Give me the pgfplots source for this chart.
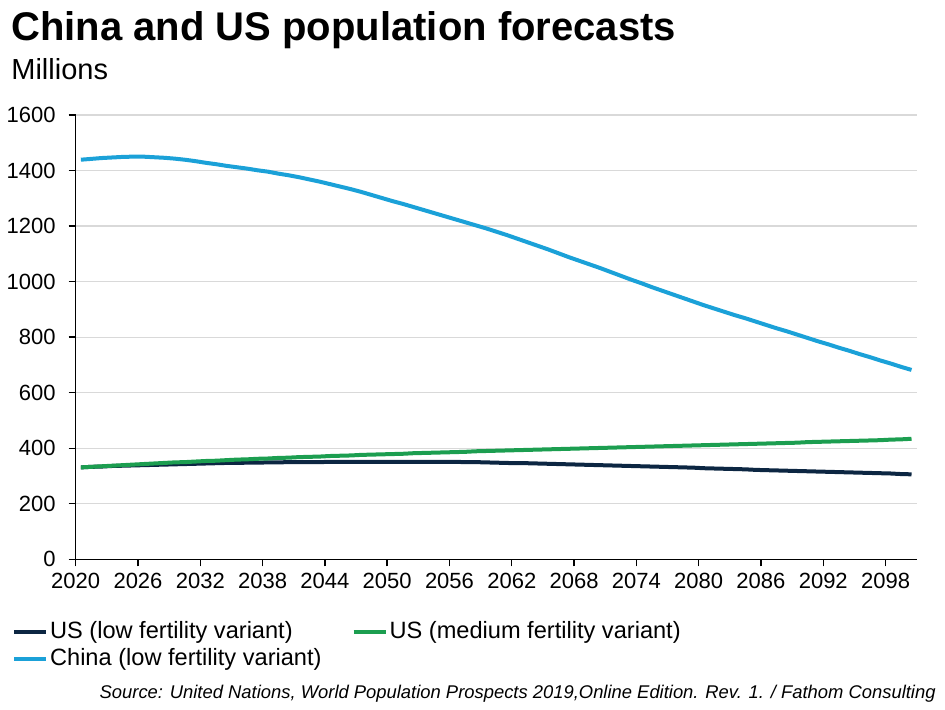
\documentclass[border=0pt]{standalone}
\usepackage{pgfplots}
\pgfplotsset{compat=1.18}
\usepackage{pgfplotstable}
\usepackage{fontspec}
\setmainfont{Liberation Sans}
\definecolor{usnavy}{RGB}{12,38,66}
\definecolor{usgreen}{RGB}{28,158,80}
\definecolor{cnblue}{RGB}{27,161,216}
\definecolor{gridgray}{RGB}{217,217,217}
\pgfplotstableread{
year uslow usmed china
2020 331 331 1439
2021 333 333 1442
2022 334 335 1445
2023 336 337 1447
2024 337 339 1449
2025 338 341 1450
2026 339 343 1450
2027 340 345 1448
2028 341 347 1446
2029 342 349 1443
2030 343 350 1439
2031 344 352 1434
2032 345 354 1428
2033 346 355 1423
2034 347 357 1417
2035 347 359 1412
2036 348 360 1407
2037 348 362 1401
2038 349 363 1396
2039 349 365 1389
2040 350 366 1383
2041 350 368 1376
2042 350 369 1368
2043 350 370 1360
2044 351 372 1351
2045 351 373 1342
2046 351 374 1333
2047 351 376 1323
2048 351 377 1312
2049 351 378 1301
2050 351 379 1290
2051 351 380 1280
2052 351 382 1269
2053 351 383 1258
2054 351 384 1247
2055 351 385 1236
2056 351 386 1225
2057 350 387 1214
2058 350 389 1203
2059 349 390 1192
2060 348 391 1180
2061 347 392 1168
2062 346 393 1155
2063 346 394 1142
2064 345 395 1129
2065 344 396 1116
2066 343 397 1102
2067 342 398 1088
2068 341 399 1075
2069 340 400 1062
2070 339 401 1049
2071 338 402 1035
2072 337 403 1021
2073 336 404 1007
2074 335 405 994
2075 334 406 980
2076 333 407 967
2077 332 408 954
2078 331 409 941
2079 330 410 928
2080 328 411 915
2081 327 412 903
2082 326 413 891
2083 325 414 879
2084 324 415 868
2085 322 416 856
2086 321 417 844
2087 320 418 832
2088 319 419 821
2089 318 420 809
2090 317 422 797
2091 316 423 785
2092 315 424 774
2093 314 425 762
2094 313 426 751
2095 312 427 739
2096 311 428 728
2097 310 429 716
2098 309 431 705
2099 307 432 693
2100 306 434 682
}\popdata
\begin{document}
\begin{tikzpicture}
\path[use as bounding box] (0,0) rectangle (472.5pt,-355pt);
\node[anchor=base west, inner sep=0pt, font=\bfseries\fontsize{20}{24}\selectfont] at (5.5pt,-20.5pt) {China and US population forecasts};
\node[anchor=base west, inner sep=0pt, font=\fontsize{14.5}{17}\selectfont] at (5.5pt,-40pt) {Millions};
\begin{axis}[
  at={(37.85pt,-279.65pt)}, anchor=south west,
  scale only axis, width=420.5pt, height=222.15pt,
  xmin=2019.5, xmax=2100.5, ymin=0, ymax=1600,
  xtick={2019.5,2025.5,2031.5,2037.5,2043.5,2049.5,2055.5,2061.5,2067.5,2073.5,2079.5,2085.5,2091.5,2097.5},
  xticklabels={2020,2026,2032,2038,2044,2050,2056,2062,2068,2074,2080,2086,2092,2098},
  ytick={0,200,...,1600},
  axis x line*=bottom, axis y line*=left,
  axis line style={-, black, line width=0.7pt},
  tick style={black, line width=0.7pt},
  tick align=outside, major tick length=3.5pt,
  ymajorgrids, grid style={gridgray, line width=0.6pt},
  /pgf/number format/assume math mode=true,
  /pgf/number format/1000 sep={},
  ticklabel style={font=\fontsize{11}{12}\selectfont},
  yticklabel style={xshift=-3pt},
  legend columns=2,
  legend cell align=left,
  legend style={draw=none, fill=none, inner sep=0pt,
    at={(axis description cs:0,0)}, anchor=north west,
    xshift=-32pt, yshift=-30pt,
    font=\fontsize{11.8}{13}\selectfont,
    nodes={inner sep=1pt},
    /tikz/every even column/.append style={column sep=14pt},
    row sep=1.5pt},
  legend image code/.code={\draw[#1] (0pt,0pt) -- (16pt,0pt);},
]
\addplot[usnavy, line width=2pt] table[x=year, y=uslow] {\popdata};
\addlegendentry{US (low fertility variant)}
\addplot[usgreen, line width=2pt] table[x=year, y=usmed] {\popdata};
\addlegendentry{US (medium fertility variant)}
\addplot[cnblue, line width=2pt] table[x=year, y=china] {\popdata};
\addlegendentry{China (low fertility variant)}
\end{axis}
\node[anchor=base east, inner sep=0pt, font=\itshape\fontsize{9.2}{11}\selectfont] at (468pt,-349pt) {Source: United Nations, World Population Prospects 2019,Online Edition. Rev. 1. / Fathom Consulting};
\end{tikzpicture}
\end{document}
